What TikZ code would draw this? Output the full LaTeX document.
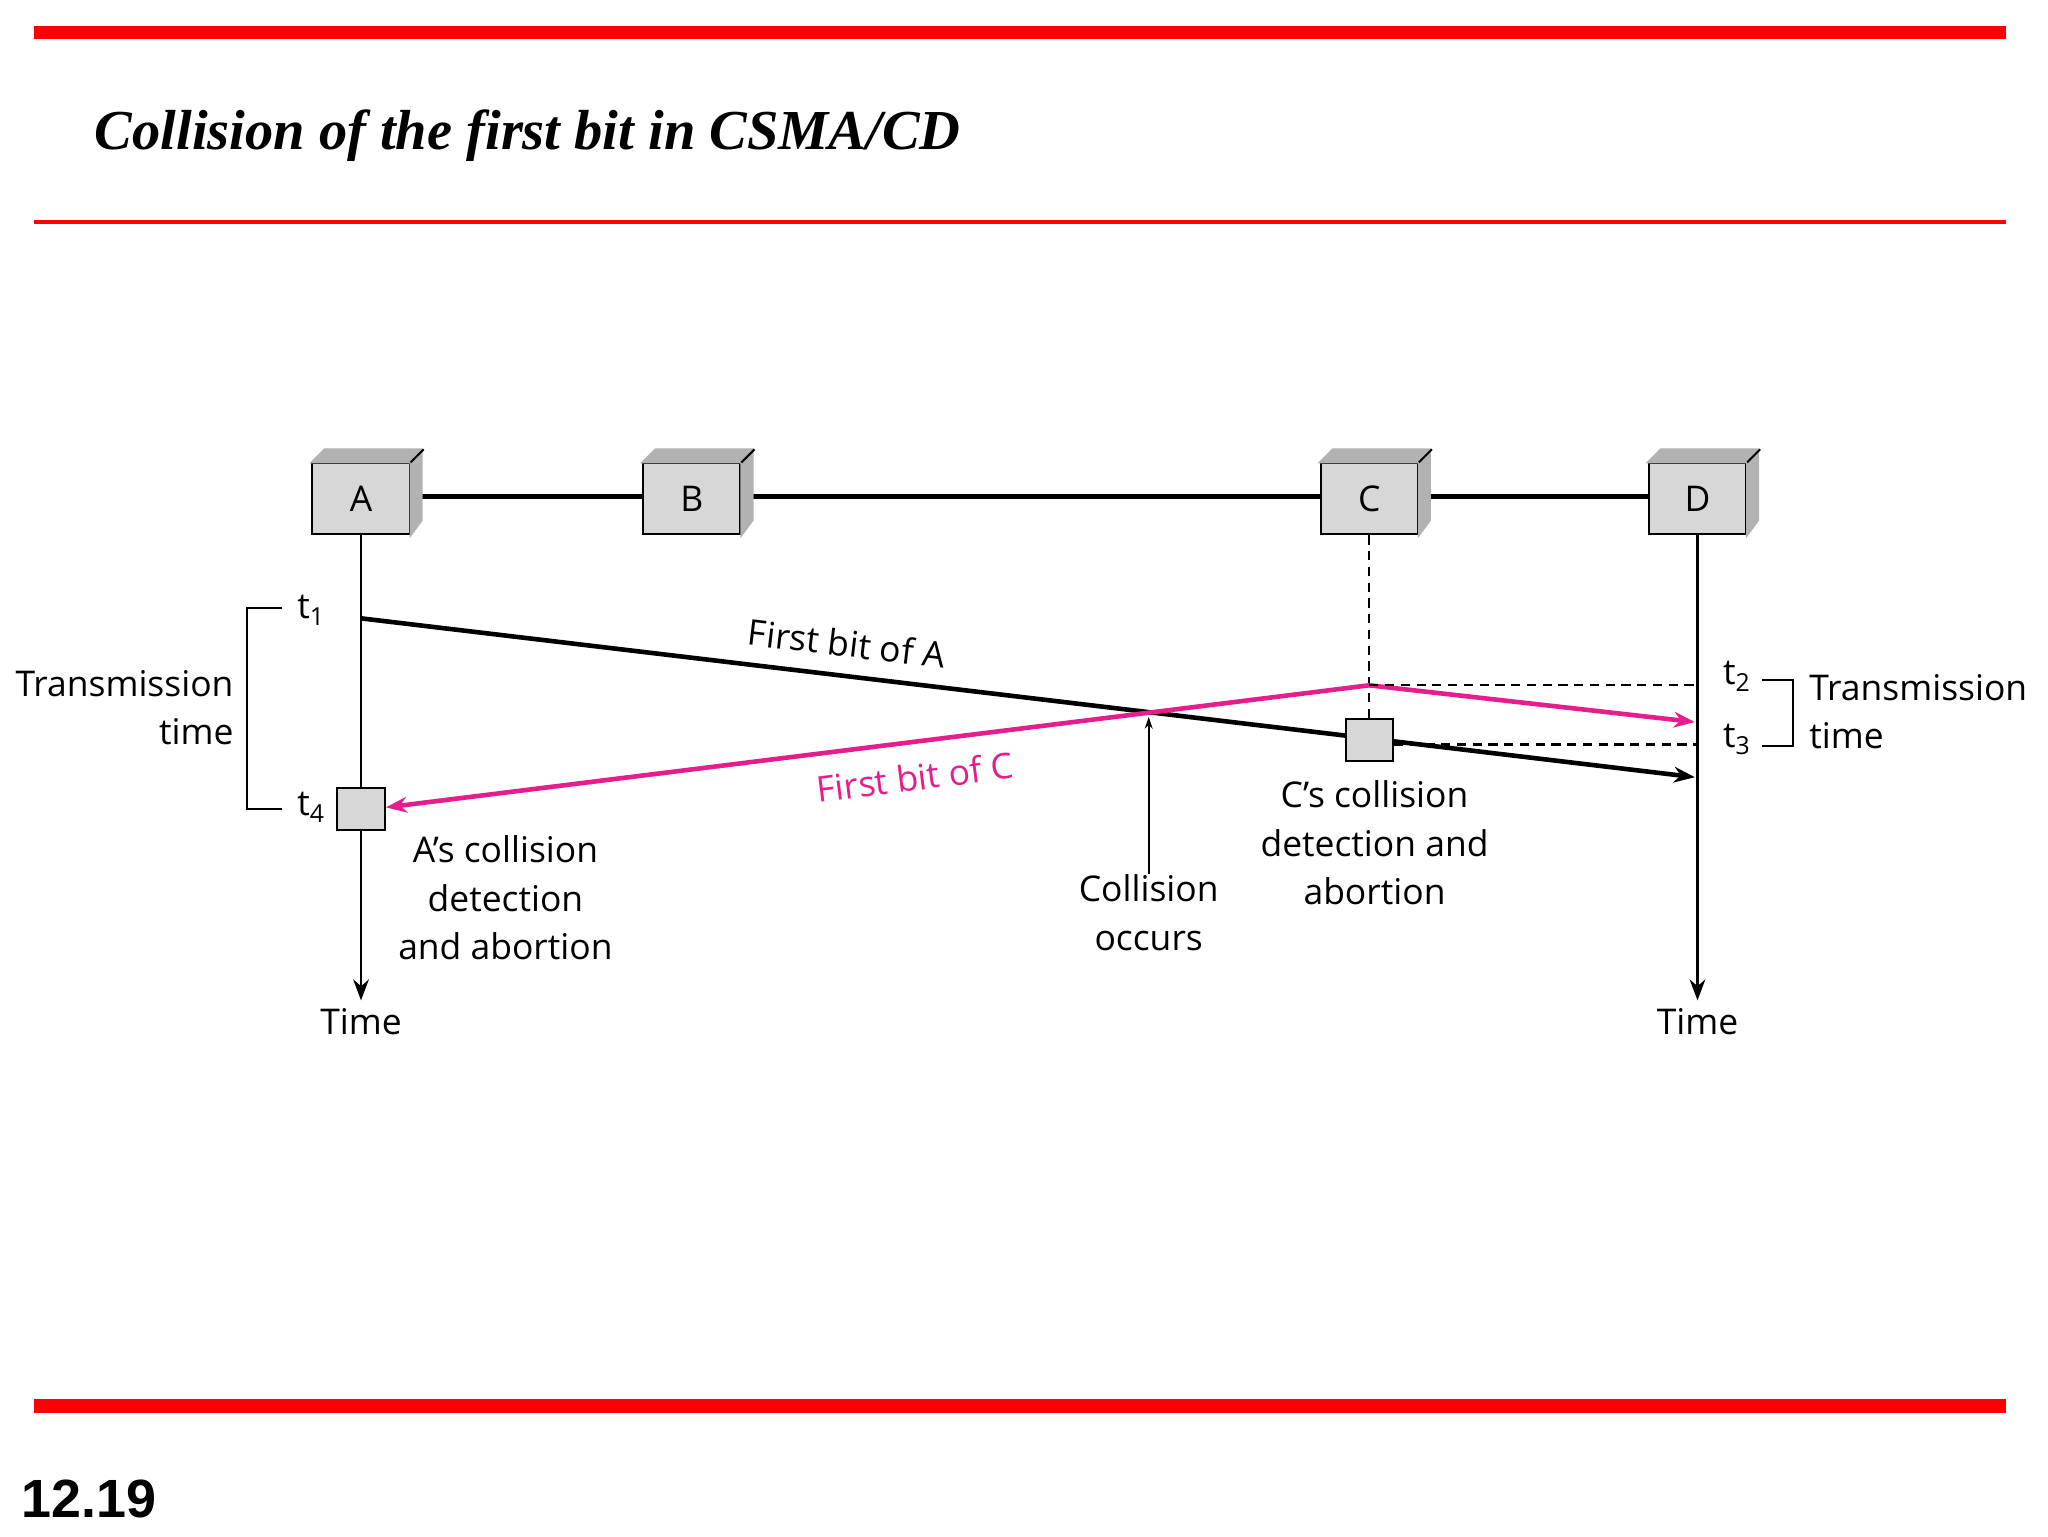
\documentclass[tikz,border=0pt]{standalone}
\usepackage{fontspec}
\setmainfont{Open Sans}
\newfontfamily\tit{Liberation Serif}
\newfontfamily\nums{Liberation Sans}
\usetikzlibrary{arrows.meta}
\definecolor{mag}{RGB}{230,30,140}
\definecolor{boxg}{RGB}{215,215,215}
\begin{document}
\begin{tikzpicture}[x=1pt,y=-1pt,
  lab/.style={font=\fontsize{27}{37}\selectfont,inner sep=0pt},
  stn/.style={draw,line width=1.5pt,fill=boxg,minimum width=74pt,minimum height=54pt,inner sep=0pt,font=\fontsize{27}{30}\selectfont},
  sm/.style={draw,line width=1.5pt,fill=boxg,minimum width=36pt,minimum height=32pt,inner sep=0pt},
  dsh/.style={line width=1.8pt,dash pattern=on 7pt off 5pt},
  arr/.style={-{Stealth[length=16pt,width=12pt]}}]
\useasboundingbox (0,0) rectangle (1560,1170);
\fill[white] (0,0) rectangle (1560,1170);
\draw[red,line width=10pt] (26,25) -- (1528,25);
\draw[red,line width=3pt] (26,169) -- (1528,169);
\draw[red,line width=10pt] (26,1071) -- (1528,1071);
\node[anchor=west,inner sep=0pt,font=\tit\bfseries\itshape\fontsize{43}{46}\selectfont] (title) at (72,103) {Collision of the first bit in CSMA/CD};
\node[anchor=west,inner sep=0pt,font=\nums\bfseries\fontsize{41}{44}\selectfont] (pg) at (16,1142) {12.19};
% bus
\draw[line width=4pt] (275,378) -- (1293,378);
\foreach \n/\x in {A/275,B/527,C/1043,D/1293}{
  \node[stn] (\n) at (\x,380) {\n};
  \fill[gray!60,draw,line width=1.5pt] (\n.north west) -- ++(10,-10) -- ++(74,0) -- ++(0,54) -- (\n.south east) -- (\n.north east) -- cycle;
  \draw[line width=1.5pt] (\n.north east) -- ++(10,-10);
}
% timelines
\coordinate (Ae) at (275,762); \coordinate (De) at (1293,762);
\draw[line width=1.8pt,arr] (A.south) -- (Ae);
\draw[line width=1.8pt,arr] (D.south) -- (De);
\node[lab] (timeA) at (275,778) {Time};
\node[lab] (timeD) at (1293,778) {Time};
\coordinate (Cp) at (1043,522);
\draw[dsh] (C.south) -- (1043,548);
% first bit of A
\coordinate (a1) at (275,471); \coordinate (a2) at (1291,592);
\draw[line width=3.5pt,arr] (a1) -- (a2);
\node[lab,rotate=-6.8] (fa) at (645,490) {First bit of A};
% C box
\node[sm] (cb) at (1043,564) {};
\node[sm] (ab) at (275,616) {};
% magenta
\draw[mag,line width=3.5pt,arr] (Cp) -- (1291,550);
\draw[mag,line width=3.5pt,arr] (Cp) -- (294,615);
\node[lab,text=mag,rotate=7.2] (fc) at (697,592) {First bit of C};
% dashed horizontals
\draw[dsh] (Cp) -- (1293,522);
\draw[dsh] (cb.east |- 0,567) -- (1293,567);
\node[lab] (t2) at (1323,515) {t\textsubscript{2}};
\node[lab] (t3) at (1323,563) {t\textsubscript{3}};
\draw[line width=1.5pt] (1342,518) -- (1366,518) -- (1366,568) -- (1342,568);
\node[lab,align=left,anchor=west] (trR) at (1378,542) {Transmission\\time};
\node[lab] (t1) at (237,465) {t\textsubscript{1}};
\node[lab] (t4) at (237,615) {t\textsubscript{4}};
\draw[line width=1.5pt] (215,463) -- (188,463) -- (188,616) -- (215,616);
\node[lab,align=right,anchor=east] (trL) at (178,539) {Transmission\\time};
% collision
\node[lab,align=center] (co) at (875,695) {Collision\\occurs};
\coordinate (cpt) at (875,546);
\draw[line width=1.2pt,-{Stealth[length=9pt,width=6pt]}] (co.north) -- (cpt);
\node[lab,align=center] (cc) at (1047,642) {C's collision\\detection and\\abortion};
\node[lab,align=center] (ac) at (385,684) {A's collision\\detection\\and abortion};
\end{tikzpicture}
\end{document}
